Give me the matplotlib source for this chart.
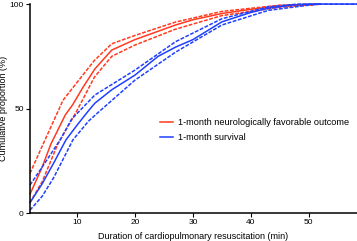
import matplotlib
matplotlib.use('Agg')
import matplotlib.pyplot as plt

plt.rcParams['font.family'] = ['Liberation Sans', 'DejaVu Sans']

# 1-month neurologically favorable outcome (estimate, lower, upper)
fav_x = [1.9, 4, 5.5, 8, 9.3, 11, 13.1, 16, 20, 24, 27, 30, 35, 40, 45, 50, 52]
fav_y = [9, 22, 33, 47, 52, 60, 69, 78, 83, 87, 90, 92.5, 95.5, 97.5, 99, 99.7, 100]
fav_up_x = [1.9, 4, 7.6, 11, 13, 16, 20, 27, 35, 45, 52]
fav_up_y = [19, 32, 54, 66, 73, 81, 85, 91.4, 96.5, 99.5, 100]
fav_lo_x = [1.9, 4, 6.7, 10, 13, 16, 20, 27, 35, 45, 52]
fav_lo_y = [5, 15, 33, 49, 65, 75, 80.4, 88, 94.5, 98.5, 100]

# 1-month survival (estimate, lower, upper)
surv_x = [1.9, 4, 6, 8.1, 10, 12, 13.1, 16, 20, 24, 27, 30, 35, 40, 43, 47, 50, 58.3]
surv_y = [5, 14, 24, 35, 42, 49, 52.6, 59, 66, 75, 79.4, 83, 91.5, 96, 98, 99.5, 100, 100]
surv_up_x = [1.9, 4, 7.1, 9.1, 13.1, 20, 27, 35, 43, 48, 58.3]
surv_up_y = [13.4, 22, 35, 45, 56.5, 68.4, 82, 93, 98.7, 100, 100]
surv_lo_x = [1.9, 4, 6, 9.3, 12, 14, 20, 27, 35, 43, 50, 52]
surv_lo_y = [1.4, 8, 17, 35, 44, 49, 63.6, 77, 90, 97, 99.5, 100]

red = '#ff3a1f'
blue = '#1f40ff'

fig = plt.figure(figsize=(3.57, 2.41), dpi=100)
ax = fig.add_axes([0.084, 0.116, 0.916, 0.867])

lw = 1.1
dash = (0, (2.5, 1))
ax.plot(fav_x, fav_y, color=red, lw=lw, label='1-month neurologically favorable outcome', clip_on=False)
ax.plot(fav_up_x, fav_up_y, color=red, lw=lw, ls=dash, clip_on=False)
ax.plot(fav_lo_x, fav_lo_y, color=red, lw=lw, ls=dash, clip_on=False)
ax.plot(surv_x, surv_y, color=blue, lw=lw, label='1-month survival', clip_on=False)
ax.plot(surv_up_x, surv_up_y, color=blue, lw=lw, ls=dash, clip_on=False)
ax.plot(surv_lo_x, surv_lo_y, color=blue, lw=lw, ls=dash, clip_on=False)

ax.set_xlim(1.9, 58.3)
ax.set_ylim(0, 100)
ax.set_xticks([10, 20, 30, 40, 50])
ax.set_yticks([0, 50, 100])
ax.tick_params(labelsize=6, length=3, width=0.8, direction='out', pad=1.5)
for s in ['top', 'right']:
    ax.spines[s].set_visible(False)
for s in ['left', 'bottom']:
    ax.spines[s].set_linewidth(1.1)

ax.set_xlabel('Duration of cardiopulmonary resuscitation (min)', fontsize=6.5, labelpad=4)
ax.set_ylabel('Cumulative proportion (%)', fontsize=6.5)
ax.yaxis.set_label_coords(-0.068, 0.5)

ax.legend(loc='upper left', bbox_to_anchor=(0.385, 0.475), frameon=False, fontsize=6.6,
          handlelength=1.4, handletextpad=0.5, labelspacing=0.6, borderpad=0)

fig.savefig('out.png', dpi=100)
